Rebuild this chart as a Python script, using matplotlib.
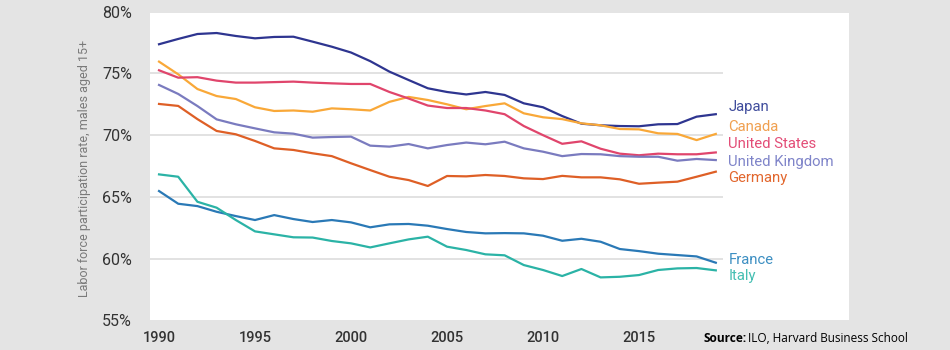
import matplotlib
matplotlib.use("Agg")
import matplotlib.pyplot as plt
from matplotlib.patches import Rectangle

years = list(range(1990, 2020))

japan = [77.37, 77.8, 78.2, 78.28, 78.04, 77.85, 77.96, 77.98, 77.58, 77.17,
         76.7, 76.0, 75.15, 74.47, 73.8, 73.5, 73.3, 73.5, 73.26, 72.58,
         72.26, 71.55, 70.93, 70.8, 70.74, 70.72, 70.88, 70.9, 71.5, 71.7]
canada = [75.96, 74.93, 73.74, 73.17, 72.93, 72.26, 71.96, 72.0, 71.9, 72.17,
          72.1, 72.0, 72.7, 73.1, 72.85, 72.5, 72.1, 72.36, 72.58, 71.77,
          71.45, 71.3, 70.96, 70.8, 70.5, 70.47, 70.15, 70.1, 69.6, 70.1]
united_states = [75.26, 74.66, 74.7, 74.42, 74.26, 74.26, 74.3, 74.34, 74.26, 74.2,
                 74.15, 74.15, 73.5, 72.97, 72.4, 72.2, 72.2, 72.0, 71.7, 70.74,
                 70.0, 69.3, 69.5, 68.9, 68.5, 68.37, 68.5, 68.45, 68.45, 68.6]
united_kingdom = [74.07, 73.34, 72.36, 71.28, 70.88, 70.55, 70.23, 70.12, 69.8, 69.85,
                  69.88, 69.15, 69.07, 69.28, 68.93, 69.2, 69.4, 69.26, 69.47, 68.93,
                  68.66, 68.3, 68.47, 68.45, 68.3, 68.25, 68.25, 67.93, 68.07, 67.98]
germany = [72.53, 72.37, 71.3, 70.34, 70.07, 69.53, 68.93, 68.8, 68.53, 68.3,
           67.72, 67.17, 66.63, 66.36, 65.88, 66.69, 66.66, 66.77, 66.69, 66.5,
           66.44, 66.7, 66.58, 66.58, 66.42, 66.06, 66.15, 66.23, 66.63, 67.04]
france = [65.47, 64.44, 64.25, 63.79, 63.44, 63.12, 63.52, 63.2, 62.96, 63.12,
          62.93, 62.53, 62.77, 62.8, 62.66, 62.39, 62.15, 62.04, 62.06, 62.04,
          61.85, 61.44, 61.6, 61.36, 60.77, 60.6, 60.39, 60.28, 60.17, 59.66]
italy = [66.82, 66.63, 64.6, 64.12, 63.12, 62.2, 61.96, 61.72, 61.7, 61.42,
         61.23, 60.9, 61.23, 61.55, 61.77, 60.96, 60.69, 60.34, 60.26, 59.47,
         59.07, 58.58, 59.15, 58.47, 58.52, 58.66, 59.07, 59.2, 59.23, 59.04]

names = ["Japan", "Canada", "United States", "United Kingdom", "Germany", "France", "Italy"]
series = [japan, canada, united_states, united_kingdom, germany, france, italy]
line_colors = ["#2e3590", "#f9a838", "#e0456c", "#7a7bbf", "#de5f26", "#2a79b6", "#2bb3a6"]
text_colors = ["#3f4c9c", "#f0a050", "#e34d77", "#7f84c9", "#e2672e", "#3d8fc2", "#45bfb2"]
label_values = [72.25, 70.65, 69.25, 67.85, 66.55, 59.9, 58.6]

yticks = [55, 60, 65, 70, 75, 80]
ytick_labels = ["55%", "60%", "65%", "70%", "75%", "80%"]
xticks = [1990, 1995, 2000, 2005, 2010, 2015]

W, H = 950, 350
fig = plt.figure(figsize=(9.5, 3.5), dpi=100)
fig.patch.set_facecolor("#e4e4e4")

ax = fig.add_axes([150 / W, 1 - 320.2 / H, (723 - 150) / W, (320.2 - 11.8) / H])
ax.set_facecolor("none")
ax.set_zorder(2)

# white panel (behind axes)
panel = Rectangle((150 / W, 1 - 320 / H), (849 - 150) / W, (320 - 13) / H,
                  transform=fig.transFigure, facecolor="white",
                  edgecolor="none", zorder=0)
fig.add_artist(panel)

ax.set_xlim(1989.53, 2019.375)
ax.set_ylim(55, 80)

for v in [60, 65, 70, 75]:
    ax.axhline(v, color="#e2e2e2", lw=1.4, zorder=1)

for name, vals, c in zip(names, series, line_colors):
    ax.plot(years, vals, color=c, lw=1.6, zorder=3, solid_joinstyle="round")

for name, v, c in zip(names, label_values, text_colors):
    ax.text(2019.65, v, name, color=c, fontsize=10.7, family="Roboto",
            va="center", ha="left", clip_on=False)

for s in ax.spines.values():
    s.set_visible(False)

ax.set_yticks(yticks)
ax.set_yticklabels(ytick_labels)
ax.set_xticks(xticks)
ax.set_xticklabels([str(x) for x in xticks])
ax.tick_params(axis="both", length=0, labelcolor="#333333")
ax.tick_params(axis="y", pad=13, labelsize=11.5)
ax.tick_params(axis="x", pad=8, labelsize=10.5)
for lab in ax.get_xticklabels() + ax.get_yticklabels():
    lab.set_family("Roboto")
for lab in ax.get_xticklabels():
    lab.set_fontweight("medium")

fig.text(85 / W, 1 - 168 / H, "Labor force participation rate, males aged 15+",
         rotation=90, ha="center", va="center", color="#7a7a7a",
         fontsize=9, family="Roboto")

fig.text(704 / W, 1 - 338 / H, "Source:", fontweight="bold", fontsize=8.6,
         family="Open Sans", ha="left", va="center", color="black")
fig.text(748 / W, 1 - 338 / H, "ILO, Harvard Business School", fontsize=8.45,
         family="Open Sans", ha="left", va="center", color="black")

fig.savefig("out.png", dpi=100, facecolor=fig.get_facecolor())
